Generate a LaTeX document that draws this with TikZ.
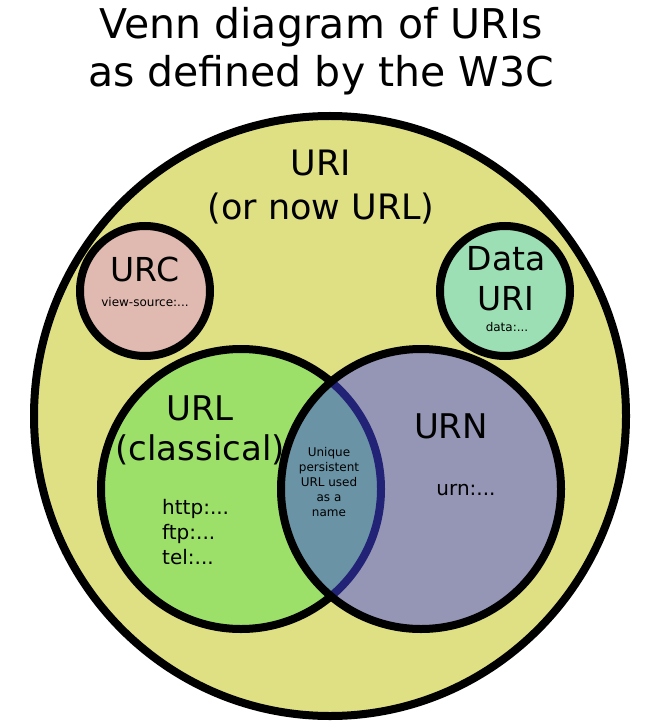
\documentclass[tikz,border=0pt]{standalone}
\usepackage{fontspec}
\setmainfont{DejaVu Sans}
\definecolor{uriyellow}{RGB}{223,223,132}
\definecolor{urcpink}{RGB}{224,185,176}
\definecolor{datagreen}{RGB}{157,223,180}
\definecolor{urlgreen}{RGB}{156,224,106}
\definecolor{urnpurple}{RGB}{149,149,181}
\definecolor{lenscol}{RGB}{106,147,165}
\definecolor{darkblue}{RGB}{34,34,119}
\begin{document}
\begin{tikzpicture}[x=1pt,y=-1pt,
  ring/.style={line width=8pt, draw=black},
  lbl/.style={inner sep=0pt, align=center, text=black},
  big/.style={lbl, font=\fontsize{34}{41}\selectfont},
  small/.style={lbl, font=\fontsize{12}{15}\selectfont},
  mid/.style={lbl, font=\fontsize{20}{25}\selectfont},
]
\useasboundingbox[fill=white] (0,0) rectangle (653,727);
\coordinate (uri) at (330,416);
\coordinate (urc) at (145,291);
\coordinate (dat) at (505,291);
\coordinate (url) at (241,489);
\coordinate (urn) at (421,489);

% big URI ellipse
\path[ring, fill=uriyellow] (uri) ellipse [x radius=296pt, y radius=300pt];
% URC and Data URI
\path[ring, fill=urcpink] (urc) circle [radius=65pt];
\path[ring, fill=datagreen] (dat) circle [radius=65pt];
% URL
\path[ring, fill=urlgreen] (url) circle [radius=140pt];
% URN fill
\fill[urnpurple] (urn) circle [radius=140pt];
% lens
\begin{scope}
  \clip (url) circle [radius=140pt];
  \fill[lenscol] (urn) circle [radius=140pt];
\end{scope}
\begin{scope}
  \clip (urn) circle [radius=140pt];
  \draw[line width=8pt, darkblue] (url) circle [radius=140pt];
\end{scope}
% URN stroke
\draw[line width=8pt] (urn) circle [radius=140pt];

% texts
\node[lbl, font=\fontsize{41}{48}\selectfont] (title) at (321,51) {Venn diagram of URIs\\as defined by the W3C};
\node[big, font=\fontsize{35}{44}\selectfont] (urit) at (321,187) {URI\\(or now URL)};
\node[big, font=\fontsize{33}{40}\selectfont] (urct) at (145,269) {URC};
\node[small] (urcx) at (145,302) {view-source:...};
\node[big, font=\fontsize{33}{40}\selectfont] (datt) at (506,279) {Data\\URI};
\node[small] (datx) at (507,327) {data:...};
\node[big, font=\fontsize{34}{40}\selectfont] (urlt) at (200,430) {URL\\(classical)};
\node[mid, align=left, anchor=west] (urlx) at (162,532) {http:...\\ftp:...\\tel:...};
\node[big] (urnt) at (451,426) {URN};
\node[mid] (urnx) at (466,490) {urn:...};
\node[small] (lenst) at (329,482) {Unique\\persistent\\URL used\\as a\\name};
\end{tikzpicture}
\end{document}
